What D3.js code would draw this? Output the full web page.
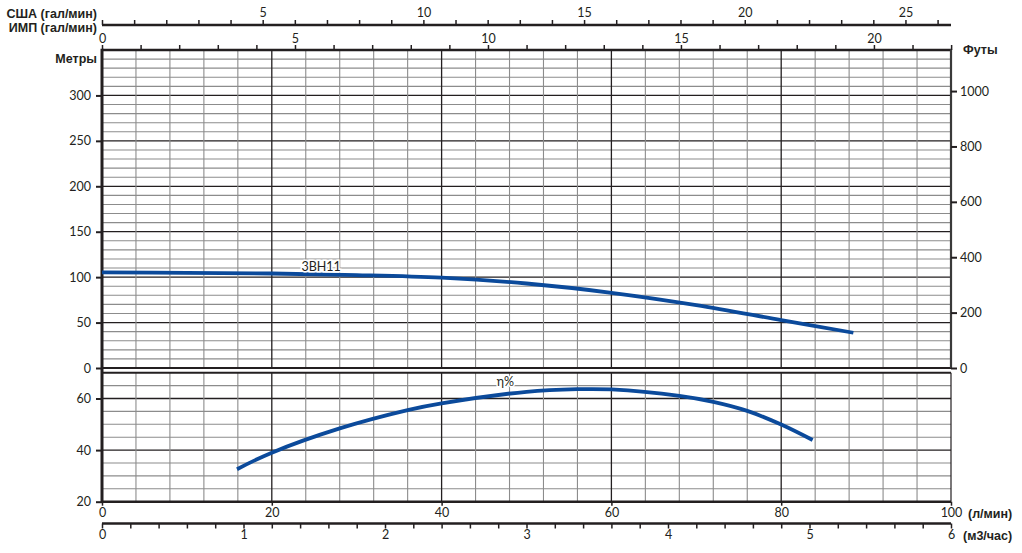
<!DOCTYPE html>
<html><head><meta charset="utf-8">
<script src="https://cdn.jsdelivr.net/npm/d3@7"></script>
<style>
body{margin:0;background:#fff;}
svg{display:block;}
.num{font-family:Lato,"DejaVu Sans",sans-serif;font-size:12.5px;fill:#231f20;}
.lbl{font-family:"Liberation Sans",Arial,sans-serif;font-weight:bold;font-size:12.5px;fill:#231f20;}
</style></head>
<body>
<script>
// ---- data ----
const flowHead = [0, 10, 20, 30, 40, 50, 60, 70, 80, 88.5];          // l/min
const headM    = [105.2, 104.7, 104.0, 102.3, 99.4, 93.0, 82.8, 69.2, 52.7, 38.8];
const flowEff  = [15.9, 20, 28, 36, 40, 50, 56, 60, 68, 72, 76, 80, 83.7];
const effPct   = [32.6, 39.0, 48.4, 55.5, 58.1, 62.6, 63.6, 63.5, 61.0, 58.7, 55.2, 49.9, 43.9];
const headTicks = [0, 50, 100, 150, 200, 250, 300];
const feetTicks = [0, 200, 400, 600, 800, 1000];
const effTicks  = [20, 40, 60];
const lpmTicks  = [0, 20, 40, 60, 80, 100];
const m3Ticks   = [0, 1, 2, 3, 4, 5, 6];
const usLabels  = [5, 10, 15, 20, 25];
const impLabels = [0, 5, 10, 15, 20];
const headName = "3BH11";
const effName = "η%";

const W = 1022, H = 553;
const svg = d3.select("body").append("svg").attr("width", W).attr("height", H);
const ink = "#231f20", gray = "#8c8c8c", blue = "#0b4a9b";

const L = 102, R = 951;
const x = d3.scaleLinear().domain([0, 100]).range([L, R]);
const xUS = d3.scaleLinear().domain([0, 100 / 3.78541]).range([L, R]);
const xImp = d3.scaleLinear().domain([0, 100 / 4.54609]).range([L, R]);
const xM3 = d3.scaleLinear().domain([0, 6]).range([L, R]);
const yH = d3.scaleLinear().domain([0, 350]).range([368, 50]);
const yFt = d3.scaleLinear().domain([0, 350 * 3.28084]).range([368, 50]);
const yE = d3.scaleLinear().domain([20, 70]).range([501.7, 372.7]);

// ---- grids ----
function grid(g, yScale, yVals, yMajor) {
  const vx = d3.range(4, 100, 4);
  const y0 = yScale.range()[0], y1 = yScale.range()[1];
  yVals.forEach(v => {
    const major = v % yMajor === 0;
    g.append("line").attr("x1", L).attr("x2", R).attr("y1", yScale(v)).attr("y2", yScale(v))
      .attr("stroke", major ? ink : gray).attr("stroke-width", major ? 1.3 : 1.1);
  });
  vx.forEach(v => {
    const major = v % 20 === 0;
    g.append("line").attr("y1", y0).attr("y2", y1).attr("x1", x(v)).attr("x2", x(v))
      .attr("stroke", major ? ink : gray).attr("stroke-width", major ? 1.3 : 1.1);
  });
}
const gTop = svg.append("g");
grid(gTop, yH, d3.range(10, 350, 10), 50);
const gBot = svg.append("g");
grid(gBot, yE, d3.range(25, 70, 5), 20);

// ---- borders ----
function line(x1, y1, x2, y2, w, c) {
  svg.append("line").attr("x1", x1).attr("y1", y1).attr("x2", x2).attr("y2", y2)
    .attr("stroke", c || ink).attr("stroke-width", w);
}
line(L, 50, R, 50, 2.5);
line(L, 368, R, 368, 2.2);
line(R, 49, R, 368, 2.2, "#3a3a3a");
line(L, yE(70), R, yE(70), 2);
line(L, yE(20), R, yE(20), 2.6);
line(R, yE(70), R, yE(20), 1.2);
line(L, 48.8, L, 503, 3);

// ---- axes ----
function styleAxis(g) {
  g.select(".domain").remove();
  g.selectAll(".tick line").attr("stroke", ink).attr("stroke-width", 2);
  g.selectAll(".tick text").attr("class", "num").attr("font-family", null).attr("font-size", null);
}
// left meters
svg.append("g").attr("transform", `translate(${L},0)`)
  .call(d3.axisLeft(yH).tickValues(headTicks).tickSize(6).tickPadding(5).tickFormat(d3.format("d")))
  .call(styleAxis);
// left efficiency
svg.append("g").attr("transform", `translate(${L},0)`)
  .call(d3.axisLeft(yE).tickValues(effTicks).tickSize(6).tickPadding(5).tickFormat(d3.format("d")))
  .call(styleAxis);
// right feet
svg.append("g").attr("transform", `translate(${R},0)`)
  .call(d3.axisRight(yFt).tickValues(feetTicks).tickSize(6).tickPadding(3).tickFormat(d3.format("d")))
  .call(styleAxis);

// US gpm axis
const gUS = svg.append("g").attr("transform", "translate(0,25)")
  .call(d3.axisTop(xUS).tickValues(d3.range(0, 27, 1)).tickSize(5).tickPadding(3)
    .tickFormat(d => usLabels.includes(d) ? d : ""))
  .call(styleAxis);
gUS.selectAll(".tick line").attr("stroke-width", 1.5);
line(L, 25, R, 25, 2.5);
// IMP gpm axis
const gImp = svg.append("g").attr("transform", "translate(0,50)")
  .call(d3.axisTop(xImp).tickValues(d3.range(0, 23, 1)).tickSize(5).tickPadding(2)
    .tickFormat(d => impLabels.includes(d) ? d : ""))
  .call(styleAxis);
gImp.selectAll(".tick line").attr("stroke-width", 1.5);

// l/min axis
const gL = svg.append("g").attr("transform", `translate(0,${yE(20)})`)
  .call(d3.axisBottom(x).tickValues(lpmTicks).tickSize(4).tickPadding(2).tickFormat(d3.format("d")))
  .call(styleAxis);
gL.selectAll(".tick line").attr("stroke-width", 1.5);
// m3/h axis
const gM = svg.append("g").attr("transform", "translate(0,523.5)")
  .call(d3.axisBottom(xM3).tickValues(d3.range(0, 30.5, 1).map(v => v / 5)).tickSize(5).tickPadding(2)
    .tickFormat(d => m3Ticks.some(t => Math.abs(t - d) < 1e-9) ? d3.format("d")(d) : ""))
  .call(styleAxis);
gM.selectAll(".tick line").attr("stroke-width", 1.5);
line(L, 523.5, R, 523.5, 2.5);

// ---- axis titles ----
function txt(s, xx, yy, anchor, cls) {
  return svg.append("text").attr("x", xx).attr("y", yy).attr("text-anchor", anchor || "start")
    .attr("dominant-baseline", "central").attr("class", cls || "lbl").text(s);
}
txt("США (гал/мин)", 97, 14, "end");
txt("ИМП (гал/мин)", 97, 27.5, "end");
txt("Метры", 97, 59, "end");
txt("Футы", 963, 50, "start");
txt("(л/мин)", 968, 514, "start");
txt("(м3/час)", 963, 535.5, "start");

// ---- curves ----
const lineH = d3.line().x(d => x(d[0])).y(d => yH(d[1])).curve(d3.curveCatmullRom.alpha(0.5));
const lineE = d3.line().x(d => x(d[0])).y(d => yE(d[1])).curve(d3.curveCatmullRom.alpha(0.5));
svg.append("path").datum(flowHead.map((f, i) => [f, headM[i]]))
  .attr("d", lineH).attr("fill", "none").attr("stroke", blue).attr("stroke-width", 3.8);
svg.append("path").datum(flowEff.map((f, i) => [f, effPct[i]]))
  .attr("d", lineE).attr("fill", "none").attr("stroke", blue).attr("stroke-width", 3.8);

svg.append("text").attr("x", x(23.5)).attr("y", yH(111.5)).attr("class", "num")
  .attr("dominant-baseline", "central").attr("stroke", "#fff").attr("stroke-width", 3)
  .attr("paint-order", "stroke").text(headName);
svg.append("text").attr("x", x(46.5)).attr("y", yE(66.5)).attr("class", "num")
  .attr("dominant-baseline", "central").attr("stroke", "#fff").attr("stroke-width", 3)
  .attr("paint-order", "stroke").text(effName);
</script>
</body></html>
